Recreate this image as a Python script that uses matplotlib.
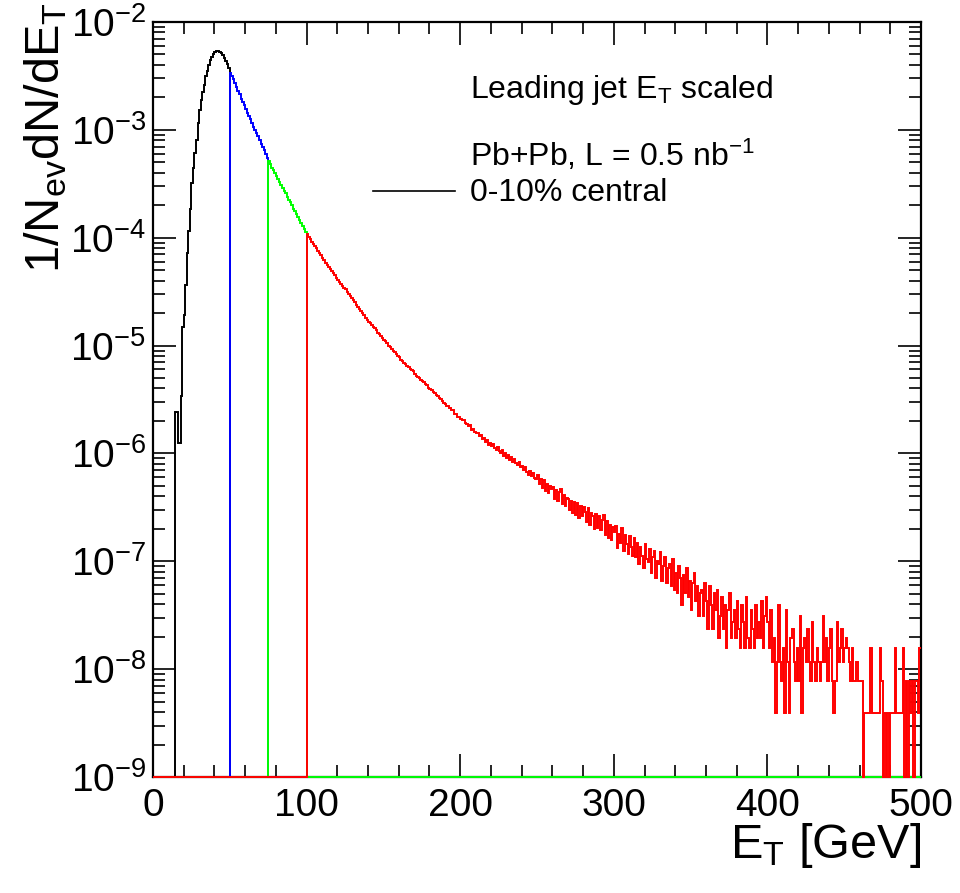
import numpy as np
import matplotlib.pyplot as plt
from matplotlib.ticker import MultipleLocator, LogLocator, NullFormatter

plt.rcParams['font.family'] = ['Liberation Sans', 'DejaVu Sans']
plt.rcParams['mathtext.fontset'] = 'custom'
plt.rcParams['mathtext.rm'] = 'Liberation Sans'
plt.rcParams['mathtext.it'] = 'Liberation Sans:italic'

# 1 GeV bins from 0 to 500
bin_lo, bin_hi = 0, 500

# log10(1/N dN/dE), one value per 1 GeV bin
black_start = 14
black_log = [-5.62, -5.62, -5.90, -5.90, -5.47, -4.83, -4.72, -4.44, -4.14, -3.94,
             -3.73, -3.49, -3.35, -3.21, -3.09, -2.94, -2.82, -2.72, -2.65, -2.58,
             -2.50, -2.45, -2.40, -2.35, -2.32, -2.30, -2.28, -2.27, -2.27, -2.28,
             -2.29, -2.31, -2.33, -2.36, -2.39, -2.43]

blue_start = 50
blue_log = [-2.47, -2.50, -2.53, -2.57, -2.60, -2.64, -2.67, -2.71, -2.74, -2.77,
            -2.81, -2.84, -2.87, -2.90, -2.94, -2.97, -3.00, -3.03, -3.06, -3.09,
            -3.13, -3.16, -3.19, -3.22, -3.26]

green_start = 75
green_log = [-3.29, -3.32, -3.35, -3.37, -3.40, -3.43, -3.46, -3.48, -3.51, -3.54,
             -3.57, -3.59, -3.62, -3.65, -3.67, -3.70, -3.73, -3.75, -3.78, -3.81,
             -3.84, -3.86, -3.89, -3.92, -3.95]

red_start = 100
red_log = [-3.97, -3.99, -4.01, -4.04, -4.06, -4.08, -4.10, -4.12, -4.14, -4.16,
           -4.19, -4.21, -4.23, -4.25, -4.27, -4.29, -4.31, -4.33, -4.35, -4.37,
           -4.39, -4.41, -4.43, -4.45, -4.47, -4.48, -4.50, -4.52, -4.54, -4.56,
           -4.58, -4.60, -4.62, -4.64, -4.66, -4.68, -4.70, -4.72, -4.74, -4.76,
           -4.78, -4.79, -4.81, -4.83, -4.84, -4.86, -4.88, -4.89, -4.91, -4.93,
           -4.95, -4.96, -4.98, -5.00, -5.01, -5.03, -5.05, -5.06, -5.08, -5.10,
           -5.11, -5.13, -5.14, -5.16, -5.17, -5.19, -5.20, -5.22, -5.23, -5.24,
           -5.26, -5.28, -5.29, -5.30, -5.32, -5.33, -5.34, -5.36, -5.37, -5.39,
           -5.40, -5.41, -5.43, -5.44, -5.46, -5.47, -5.49, -5.50, -5.51, -5.53,
           -5.54, -5.56, -5.56, -5.58, -5.60, -5.60, -5.63, -5.63, -5.66, -5.66,
           -5.68, -5.69, -5.69, -5.72, -5.73, -5.75, -5.74, -5.78, -5.77, -5.80,
           -5.81, -5.81, -5.84, -5.83, -5.87, -5.86, -5.89, -5.88, -5.92, -5.90,
           -5.93, -5.91, -5.95, -5.97, -5.94, -5.98, -6.00, -5.97, -6.02, -6.00,
           -6.04, -6.01, -6.06, -6.03, -6.08, -6.05, -6.09, -6.11, -6.08, -6.13,
           -6.12, -6.15, -6.13, -6.17, -6.20, -6.16, -6.21, -6.18, -6.23, -6.24,
           -6.20, -6.28, -6.24, -6.32, -6.25, -6.35, -6.28, -6.37, -6.30, -6.33,
           -6.31, -6.42, -6.34, -6.44, -6.36, -6.33, -6.47, -6.39, -6.49, -6.41,
           -6.42, -6.52, -6.44, -6.55, -6.45, -6.57, -6.46, -6.60, -6.49, -6.58,
           -6.50, -6.54, -6.64, -6.51, -6.66, -6.55, -6.58, -6.70, -6.56, -6.69,
           -6.58, -6.71, -6.62, -6.57, -6.76, -6.63, -6.78, -6.66, -6.80, -6.68]

# tail (300-500 GeV) in entries; one entry = 3.9e-9
tail_start = 300
entry_weight = 3.9e-9
tail_counts = [48, 55, 34, 46, 38, 52, 32, 45, 37, 30, 44, 35, 29, 42,
               28, 38, 24, 35, 29, 22, 37, 27, 25, 33, 20, 28, 32, 18, 26, 24,
               31, 17, 23, 28, 16, 22,
               24, 15, 27, 14, 20, 13, 23, 18, 10, 19, 13, 22, 12, 17, 9, 16,
               20, 11, 15, 8, 13,
               14, 8, 16, 11, 6, 15, 10, 6, 13, 9, 14, 5, 8, 12, 6, 10, 4, 9,
               13, 5, 7, 9,
               5, 11, 6, 4, 10, 7, 4, 12, 5, 4, 9, 6, 4, 10, 5, 7, 5, 11, 4, 8, 12,
               7, 4, 9, 3, 5, 1, 3, 10, 3, 2, 4, 1, 9, 3, 1, 5, 6, 3, 2, 4,
               2, 8, 1, 4, 5, 3, 6, 3, 2, 7, 3, 2, 4, 3, 2, 3, 8, 3, 5, 2,
               4, 6, 2, 1, 2, 7, 3, 4, 6, 3, 4, 5, 4, 3, 2, 4, 2, 2, 3, 2,
               2, 2, 0, 1, 1, 1, 1, 4, 1, 1, 1, 1, 1, 4, 2, 0, 1, 0, 1, 0,
               1, 1, 1, 4, 1, 1, 1, 1, 4, 0, 2, 0, 2, 1, 2, 0, 2, 2, 1, 4]

y_lo, y_hi = 1e-9, 1e-2
y_tick_exp = [-9, -8, -7, -6, -5, -4, -3, -2]
x_ticks = [0, 100, 200, 300, 400, 500]

edges = np.arange(bin_lo, bin_hi + 1)
nbins = len(edges) - 1


def make_hist(start, logvals, counts=None, count_start=None):
    h = np.zeros(nbins)
    h[start:start + len(logvals)] = 10.0 ** np.array(logvals)
    if counts is not None:
        h[count_start:count_start + len(counts)] = np.array(counts) * entry_weight
    # empty bins sit on the frame bottom as in the original plot
    return np.where(h > 0, h, y_lo)


h_black = make_hist(black_start, black_log)
h_blue = make_hist(blue_start, blue_log)
h_green = make_hist(green_start, green_log)
h_red = make_hist(red_start, red_log, tail_counts, tail_start)

fig = plt.figure(figsize=(9.6, 8.93), dpi=100)
ax = fig.add_axes([153 / 960, 116 / 893, 768 / 960, 755 / 893])

for h, c in [(h_black, 'black'), (h_blue, '#0000ff'), (h_green, '#00ff00'), (h_red, '#ff0000')]:
    ax.stairs(h, edges, color=c, lw=1.4, baseline=None, clip_on=False, zorder=3)

ax.set_yscale('log')
ax.set_xlim(bin_lo, bin_hi)
ax.set_ylim(y_lo, y_hi)

ax.set_xticks(x_ticks)
ax.set_xticklabels([str(t) for t in x_ticks])
ax.xaxis.set_minor_locator(MultipleLocator(20))
ax.set_yticks([10.0 ** e for e in y_tick_exp])
ax.set_yticklabels([r'$10^{%d}$' % e for e in y_tick_exp])
ax.yaxis.set_minor_locator(LogLocator(base=10, subs=np.arange(2, 10)))
ax.yaxis.set_minor_formatter(NullFormatter())

ax.tick_params(which='both', direction='in', top=True, right=True, width=1.2, labelsize=28)
ax.tick_params(which='major', length=16.5)
ax.tick_params(which='minor', length=8.5)
ax.tick_params(axis='x', pad=8)
ax.tick_params(axis='y', pad=5)
for s in ax.spines.values():
    s.set_linewidth(1.6)

fig.text(46 / 960, 1 - 2 / 893, r'1/N$_{\mathrm{ev}}$dN/dE$_{\mathrm{T}}$', rotation=90,
         ha='center', va='top', fontsize=35)
fig.text(921 / 960, 1 - 846 / 893, r'E$_{\mathrm{T}}$ [GeV]', ha='right', va='center', fontsize=35)

fig.text(470 / 960, 1 - 90 / 893, r'Leading jet E$_{\mathrm{T}}$ scaled', ha='left', va='center', fontsize=23)
fig.text(470 / 960, 1 - 155 / 893, r'Pb+Pb, L = 0.5 nb$^{-1}$', ha='left', va='center', fontsize=23)
fig.text(470 / 960, 1 - 193 / 893, '0-10% central', ha='left', va='center', fontsize=23)
fig.add_artist(plt.Line2D([373 / 960, 455 / 960], [1 - 191 / 893, 1 - 191 / 893],
                          color='black', lw=1.2))

fig.savefig('out.png', dpi=100)
